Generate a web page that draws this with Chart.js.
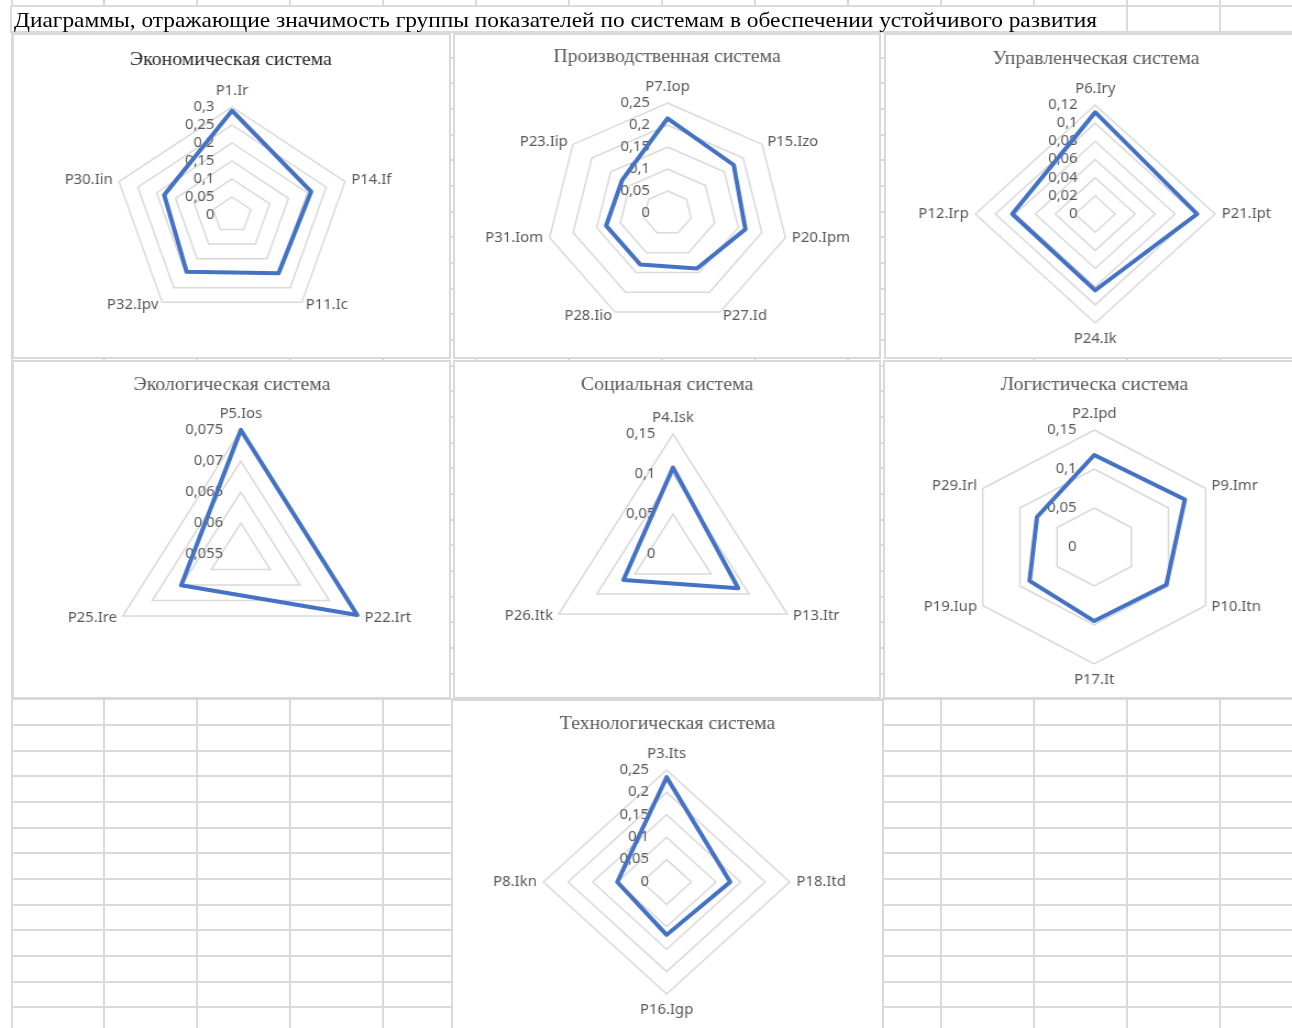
<!DOCTYPE html>
<html lang="ru">
<head>
<meta charset="utf-8">
<title>Значимость групп показателей по системам</title>
<script src="https://cdn.jsdelivr.net/npm/chart.js"></script>
<style>
  html, body { margin: 0; padding: 0; background: #fff; }
  body { width: 1292px; height: 1028px; position: relative; overflow: hidden; }
  #sheet { position: absolute; left: 0; top: 0; }
  #header {
    position: absolute; left: 14px; top: 10px;
    font-family: "Liberation Serif", "Times New Roman", serif;
    font-size: 21px; line-height: 21px; color: #000;
    white-space: nowrap; transform-origin: 0 0;
  }
  .box { position: absolute; background: #fff; border: 2px solid #d9d9d9; box-sizing: border-box; }
  .chart { position: absolute; transform-origin: 0 0; }
</style>
</head>
<body>
<canvas id="sheet" width="1292" height="1028"></canvas>
<div id="header">Диаграммы, отражающие значимость группы показателей по системам в обеспечении устойчивого развития</div>

<script>
// ---- Data ----------------------------------------------------------------

// Экономическая система
const econLabels = ['P1.Ir', 'P14.If', 'P11.Ic', 'P32.Ipv', 'P30.Iin'];
const econValues = [0.29, 0.21, 0.2, 0.195, 0.18];
const econTicks  = [0, 0.05, 0.1, 0.15, 0.2, 0.25, 0.3];

// Производственная система
const prodLabels = ['P7.Iop', 'P15.Izo', 'P20.Ipm', 'P27.Id', 'P28.Iio', 'P31.Iom', 'P23.Iip'];
const prodValues = [0.215, 0.175, 0.165, 0.14, 0.13, 0.13, 0.12];
const prodTicks  = [0, 0.05, 0.1, 0.15, 0.2, 0.25];

// Управленческая система
const mgmtLabels = ['P6.Iry', 'P21.Ipt', 'P24.Ik', 'P12.Irp'];
const mgmtValues = [0.112, 0.102, 0.084, 0.083];
const mgmtTicks  = [0, 0.02, 0.04, 0.06, 0.08, 0.1, 0.12];

// Экологическая система
const ecoLabels = ['P5.Ios', 'P22.Irt', 'P25.Ire'];
const ecoValues = [0.075, 0.0747, 0.0651];
const ecoTicks  = [0.055, 0.06, 0.065, 0.07, 0.075];

// Социальная система
const socLabels = ['P4.Isk', 'P13.Itr', 'P26.Itk'];
const socValues = [0.108, 0.0855, 0.065];
const socTicks  = [0, 0.05, 0.1, 0.15];

// Логистическа система
const logLabels = ['P2.Ipd', 'P9.Imr', 'P10.Itn', 'P17.It', 'P19.Iup', 'P29.Irl'];
const logValues = [0.118, 0.122, 0.097, 0.095, 0.087, 0.077];
const logTicks  = [0, 0.05, 0.1, 0.15];

// Технологическая система
const techLabels = ['P3.Its', 'P18.Itd', 'P16.Igp', 'P8.Ikn'];
const techValues = [0.234, 0.129, 0.118, 0.1];
const techTicks  = [0, 0.05, 0.1, 0.15, 0.2, 0.25];

// ---- Layout --------------------------------------------------------------

const SX = 1.1;               // horizontal stretch of every chart
const LINE = '#4472C4';
const GRID = '#d9d9d9';
const TEXT = '#595959';
const SANS = '"Noto Sans", "Open Sans", sans-serif';
const SERIF = '"Liberation Serif", "Times New Roman", serif';
const LABEL_FONT = '13.5px ' + SANS;
const TITLE_FONT = '18px ' + SERIF;

const panels = [
  { title: 'Экономическая система',    titleColor: '#262626', labels: econLabels, values: econValues, ticks: econTicks,
    box: [12, 33, 451, 359],   center: [232.5, 215],   r: 108, titlePos: [231, 60] },
  { title: 'Производственная система', titleColor: TEXT, labels: prodLabels, values: prodValues, ticks: prodTicks,
    box: [453, 33, 881, 359],  center: [668.3, 213.8], r: 110, titlePos: [667, 57] },
  { title: 'Управленческая система',   titleColor: TEXT, labels: mgmtLabels, values: mgmtValues, ticks: mgmtTicks,
    box: [884, 33, 1300, 359], center: [1095.3, 214.5], r: 109, titlePos: [1096, 59] },
  { title: 'Экологическая система',    titleColor: TEXT, labels: ecoLabels, values: ecoValues, ticks: ecoTicks,
    box: [12, 360, 451, 699],  center: [241, 554],     r: 124, titlePos: [232, 385] },
  { title: 'Социальная система',       titleColor: TEXT, labels: socLabels, values: socValues, ticks: socTicks,
    box: [453, 360, 881, 699], center: [673.7, 554],   r: 120, titlePos: [667, 385] },
  { title: 'Логистическа система',     titleColor: TEXT, labels: logLabels, values: logValues, ticks: logTicks,
    box: [883, 360, 1300, 699], center: [1094.7, 547.8], r: 117, titlePos: [1094.5, 385] },
  { title: 'Технологическая система',  titleColor: TEXT, labels: techLabels, values: techValues, ticks: techTicks,
    box: [451, 699, 884, 1035], center: [667.3, 882.7], r: 112, titlePos: [667.5, 724] }
];

// ---- Spreadsheet background ---------------------------------------------

(function drawSheet() {
  const c = document.getElementById('sheet').getContext('2d');
  c.strokeStyle = '#dadada';
  c.lineWidth = 2;
  const colX = [];
  for (let k = 0; k < 14; k++) colX.push(Math.round(11.5 + 92.95 * k));
  const rowY = [];
  for (let k = 0; 31.9 + 25.67 * k < 1040; k++) rowY.push(Math.round(31.9 + 25.67 * k));

  const line = (x1, y1, x2, y2) => { c.beginPath(); c.moveTo(x1, y1); c.lineTo(x2, y2); c.stroke(); };

  // short column marks above the header row
  colX.forEach(x => line(x, 0, x, 6));
  // header row
  line(11, 6, 1292, 6);
  [11, 1127, 1220].forEach(x => line(x, 6, x, 33));
  // body cells
  rowY.forEach(y => line(11, y, 1292, y));
  colX.forEach(x => line(x, 33, x, 1028));
})();

// ---- Header width --------------------------------------------------------

(function fitHeader() {
  const h = document.getElementById('header');
  const w = h.getBoundingClientRect().width;
  h.style.transform = 'scaleX(' + (1083 / w) + ')';
})();

// ---- Text drawn on each radar -------------------------------------------

const fmt = v => String(+v.toFixed(4)).replace('.', ',');

const radarText = {
  id: 'radarText',
  beforeDatasetsDraw(chart, args, opts) {
    const r = chart.scales.r, ctx = chart.ctx;
    ctx.save();
    ctx.font = LABEL_FONT;
    ctx.fillStyle = TEXT;
    ctx.textAlign = 'right';
    ctx.textBaseline = 'middle';
    r.ticks.forEach(t => {
      const d = r.getDistanceFromCenterForValue(t.value);
      ctx.fillText(fmt(t.value), r.xCenter - 16, r.yCenter - d);
    });
    ctx.restore();
  },
  afterDraw(chart, args, opts) {
    const r = chart.scales.r, ctx = chart.ctx;
    ctx.save();
    // title
    ctx.font = TITLE_FONT;
    ctx.fillStyle = opts.titleColor;
    ctx.textAlign = 'center';
    ctx.textBaseline = 'middle';
    ctx.fillText(opts.title, opts.titleX, opts.titleY);
    // category labels outside the outer ring
    ctx.font = LABEL_FONT;
    ctx.fillStyle = TEXT;
    chart.data.labels.forEach((lab, i) => {
      const p = r.getPointPosition(i, r.drawingArea);
      const dx = Math.cos(p.angle), dy = Math.sin(p.angle);
      let x = p.x, y = p.y;
      if (Math.abs(dx) < 0.1) {
        ctx.textAlign = 'center';
        y += dy * 16;
      } else {
        ctx.textAlign = dx > 0 ? 'left' : 'right';
        x += dx * 6;
        y += dy * 4;
      }
      ctx.textBaseline = 'middle';
      ctx.fillText(lab, x, y);
    });
    ctx.restore();
  }
};

// ---- Build the charts ----------------------------------------------------

const charts = panels.map(pnl => {
  const [x0, y0, x1, y1] = pnl.box;
  const box = document.createElement('div');
  box.className = 'box';
  Object.assign(box.style, { left: x0 + 'px', top: y0 + 'px', width: (x1 - x0) + 'px', height: (y1 - y0) + 'px' });
  document.body.appendChild(box);

  const cw = Math.round((x1 - x0) / SX), ch = y1 - y0;
  const cv = document.createElement('canvas');
  cv.className = 'chart';
  cv.width = cw; cv.height = ch;
  Object.assign(cv.style, { left: x0 + 'px', top: y0 + 'px', width: cw + 'px', height: ch + 'px', transform: 'scaleX(' + SX + ')' });
  document.body.appendChild(cv);

  const ccx = (pnl.center[0] - x0) / SX, ccy = pnl.center[1] - y0, R = pnl.r;
  const t = pnl.ticks;
  const step = +(t[1] - t[0]).toFixed(6);

  return new Chart(cv, {
    type: 'radar',
    data: {
      labels: pnl.labels,
      datasets: [{
        data: pnl.values,
        borderColor: LINE,
        borderWidth: 4,
        borderJoinStyle: 'round',
        fill: false,
        pointRadius: 0,
        pointHoverRadius: 0,
        tension: 0
      }]
    },
    options: {
      responsive: false,
      animation: false,
      events: [],
      layout: { padding: { left: ccx - R, right: cw - ccx - R, top: ccy - R, bottom: ch - ccy - R } },
      plugins: {
        legend: { display: false },
        tooltip: { enabled: false },
        title: { display: false },
        radarText: { title: pnl.title, titleColor: pnl.titleColor, titleX: (pnl.titlePos[0] - x0) / SX, titleY: pnl.titlePos[1] - y0 }
      },
      scales: {
        r: {
          min: t[0],
          max: t[t.length - 1],
          ticks: { display: false, stepSize: step },
          grid: { color: GRID, lineWidth: 1.5 },
          angleLines: { display: false },
          pointLabels: { display: false }
        }
      }
    },
    plugins: [radarText]
  });
});

// redraw once installed fonts are resolved
if (document.fonts && document.fonts.ready) {
  document.fonts.ready.then(() => charts.forEach(c => c.draw()));
}
</script>
</body>
</html>
